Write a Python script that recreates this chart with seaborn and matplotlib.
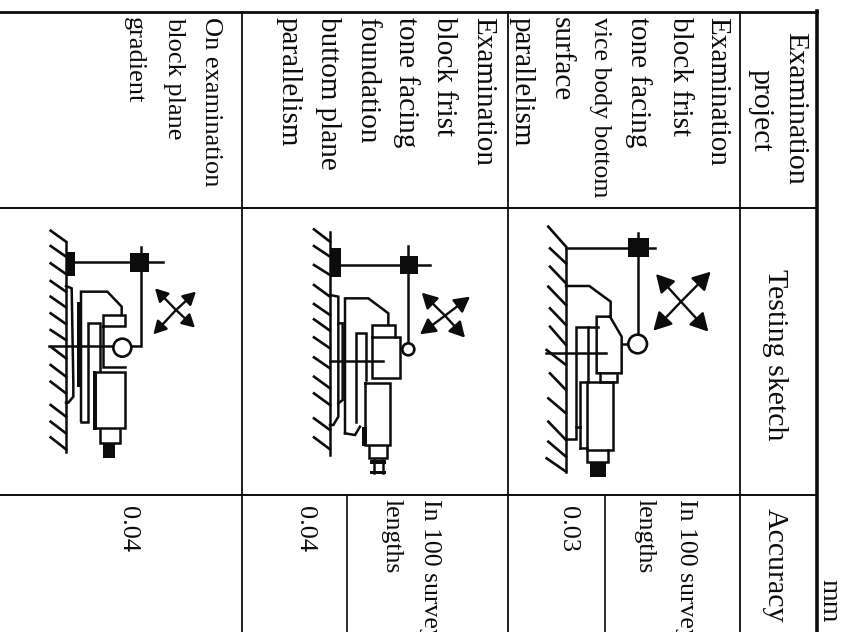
import numpy as np
import pandas as pd
import matplotlib
matplotlib.use("Agg")
import matplotlib.pyplot as plt
import seaborn as sns
from matplotlib.patches import Circle, Rectangle

sns.set_theme(style="white")
plt.rcParams['font.family'] = ['Liberation Serif', 'DejaVu Sans']

INK = "#0c0c0c"

# ---- table content ----
header_texts = [("Examination", 795, 108), ("project", 760, 110), ("Testing sketch", 775, 355), ("Accuracy", 775, 565)]
row1_lines = ["Examination", "block frist", "tone facing", "vice body bottom", "surface", "parallelism"]
row1_x = [717, 680, 638, 600, 561, 522]
row1_sizes = [21, 21, 21, 18.5, 21, 21]
row2_lines = ["Examination", "block frist", "tone facing", "foundation", "buttom plane", "parallelism"]
row2_x = [483, 444, 406, 367, 328, 289]
row3_lines = ["On examination", "block plane", "gradient"]
row3_x = [211, 174, 134]
accuracy_notes = [("In 100 survey", 686), ("lengths", 645), ("In 100 survey", 430), ("lengths", 392)]
accuracy_values = [("0.03", 568), ("0.04", 305), ("0.04", 128)]
unit_label = ("mm", 829, 601)

# ---- table rules: (x0, y0, x1, y1, width) ----
rules = [
    (817, 11, 817, 632, 2.6), (0, 12, 817, 12, 2.0),
    (740, 12, 740, 632, 1.3), (508, 12, 508, 632, 1.3), (242, 12, 242, 632, 1.3),
    (0, 208, 817, 208, 1.4), (0, 495, 817, 495, 1.4),
    (605, 495, 605, 632, 1.2), (347, 495, 347, 632, 1.2),
]

# ---- sketches, zoomed-crop coordinates (3x) with their origin ----
s1 = dict(
    origin=(500, 200),
    hatch=[(145,80,198,140),(150,145,198,190),(150,200,198,250),(145,260,198,315),(150,325,198,375),(150,380,198,435),
           (140,450,198,495),(150,520,198,570),(145,595,198,640),(145,665,198,720),(145,725,198,770),(140,775,198,815)],
    lines=[[(198,145),(198,815)],[(198,145),(465,145)],[(413,100),(413,400)],[(370,432),(385,432)],
           [(198,258),(268,258),(332,305),(332,350),(290,350),(290,520),(365,520),(365,410),(330,350)],
           [(228,680),(228,380),(295,380)],[(265,380),(265,545)],[(138,458),(318,458)],
           [(198,718),(228,718),(228,680),(240,680)],[(240,745),(240,545),(340,545)],[(240,745),(262,745)],
           [(262,545),(262,750),(340,750),(340,545)],[(262,750),(262,785),(325,785),(325,750)],[(300,520),(300,545),(350,545),(350,525)]],
    blocks=[(383,115,447,170),(270,785,318,832)],
    circle=(413,432,28),
    arrows=((543,305),[(468,222),(632,215),(460,392),(625,395)],28),
)
s2 = dict(
    origin=(270, 200),
    hatch=[(132,88,180,125),(132,138,180,170),(132,195,180,225),(132,255,180,290),(132,312,180,345),(132,358,180,392),
           (132,412,180,445),(132,472,180,505),(132,530,180,565),(132,580,180,615),(132,655,180,690),(132,712,180,748)],
    lines=[[(180,95),(180,765)],[(212,195),(480,195)],[(415,138),(415,430)],
           [(180,285),(205,290),(205,650),(190,675),(180,675)],[(205,370),(218,370),(218,600),(205,610)],
           [(225,700),(225,295),(295,295),(355,340),(355,375)],[(305,410),(305,375),(375,375),(375,410)],
           [(305,410),(390,410),(390,535),(305,535),(305,410)],[(225,700),(255,705),(270,680)],
           [(258,665),(258,400),(288,400),(288,540)],[(180,482),(338,482)],
           [(285,548),(360,548),(360,735),(285,735),(285,548)],[(298,738),(298,775),(350,775),(350,738)],
           [(312,780),(312,820)],[(338,780),(338,820)]],
    blocks=[(180,145,212,230),(390,168,443,222),(275,680,290,738),(300,780,348,792),(300,812,348,822)],
    circle=(415,448,18),
    arrows=((525,347),[(455,278),(600,290),(450,403),(585,413)],24),
)
s3 = dict(
    origin=(20, 200),
    hatch=[(92,92,138,125),(92,138,138,170),(92,190,138,222),(92,243,138,275),(92,290,138,322),(92,340,138,372),
           (92,390,138,420),(92,440,138,475),(92,495,138,530),(92,545,138,580),(92,615,138,650),(92,665,138,700),(92,712,138,748)],
    lines=[[(138,125),(138,755)],[(165,187),(428,187)],[(362,140),(362,438),(335,438)],[(88,438),(280,438)],
           [(138,258),(155,265),(160,550),(160,590),(145,608),(138,608)],
           [(183,662),(183,275),(262,275),(305,320),(305,345)],
           [(250,378),(250,345),(315,345),(315,378),(250,378)],[(250,378),(250,500),(315,500)],
           [(183,665),(205,665),(205,370),(240,370),(240,510)],
           [(222,515),(315,515),(315,685),(222,685),(222,515)],[(240,690),(240,730),(300,730),(300,690)]],
    blocks=[(138,155,165,228),(330,160,388,215),(170,305,182,560),(248,730,285,775),(218,515,232,690)],
    circle=(307,443,27),
    arrows=((468,330),[(405,265),(528,275),(400,403),(525,383)],20),
)
sketches = [s1, s2, s3]

# ---- draw ----
fig = plt.figure(figsize=(8.5, 6.32), dpi=100, facecolor="white")
ax = fig.add_axes([0, 0, 1, 1])


def poly(pts, lw, color=INK):
    df = pd.DataFrame(pts, columns=["x", "y"])
    sns.lineplot(data=df, x="x", y="y", estimator=None, sort=False, ax=ax, color=color,
                 linewidth=lw, legend=False, solid_capstyle="projecting", solid_joinstyle="miter")


for x0, y0, x1, y1, w in rules:
    poly([(x0, y0), (x1, y1)], w)

for s in sketches:
    ox, oy = s["origin"]
    tr = lambda p: (ox + p[0] / 3, oy + p[1] / 3)
    for h in s["hatch"]:
        poly([tr(h[:2]), tr(h[2:])], 1.9)
    for l in s["lines"]:
        poly([tr(p) for p in l], 1.8)
    for b in s["blocks"]:
        (a, c), (d, e) = tr(b[:2]), tr(b[2:])
        ax.add_patch(Rectangle((a, c), d - a, e - c, color=INK, lw=0, zorder=3))
    cx, cy, r = s["circle"]
    ax.add_patch(Circle(tr((cx, cy)), r / 3, fc="white", ec=INK, lw=1.9, zorder=3))
    center, tips, ms = s["arrows"]
    for t in tips:
        ax.annotate("", xy=tr(t), xytext=tr(center),
                    arrowprops=dict(arrowstyle="-|>,head_length=0.62,head_width=0.34", color=INK, lw=1.7,
                                    mutation_scale=ms * 0.62, shrinkA=0, shrinkB=0))

ax.set_xlim(0, 850)
ax.set_ylim(632, 0)
ax.axis("off")

tk = dict(rotation=270, color=INK, ha="center")
for t, x, y in header_texts:
    ax.text(x, y, t, va="center", fontsize=21.5, **tk)
for t, x, fs in zip(row1_lines, row1_x, row1_sizes):
    ax.text(x, 17, t, va="top", fontsize=fs, **tk)
for t, x in zip(row2_lines, row2_x):
    ax.text(x, 17, t, va="top", fontsize=21, **tk)
for t, x in zip(row3_lines, row3_x):
    ax.text(x, 17, t, va="top", fontsize=19, **tk)
for t, x in accuracy_notes:
    ax.text(x, 499, t, va="top", fontsize=18.5, **tk)
for t, x in accuracy_values:
    ax.text(x, 506, t, va="top", fontsize=19, **tk)
ax.text(unit_label[1], unit_label[2], unit_label[0], va="center", fontsize=20, **tk)

fig.savefig("out.png", dpi=100, facecolor="white")
